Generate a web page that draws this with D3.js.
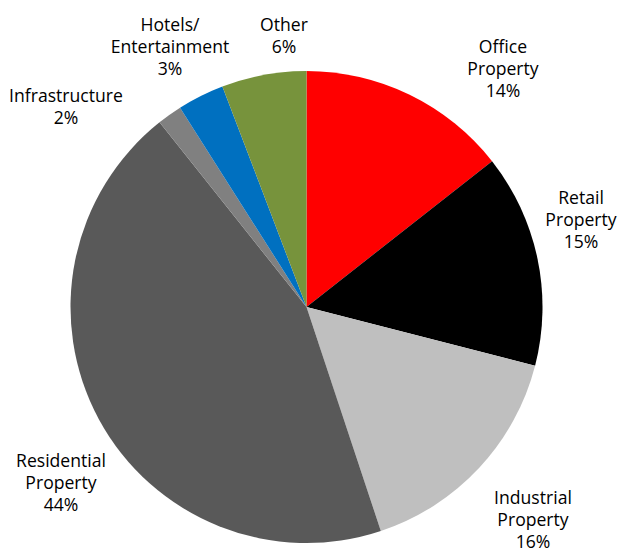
<!DOCTYPE html>
<html>
<head>
<meta charset="utf-8">
<script src="https://cdn.jsdelivr.net/npm/d3@7"></script>
<style>
  body { margin: 0; background: #fff; }
  text { font-family: "Open Sans", sans-serif; font-size: 17.6px; fill: #000; }
</style>
</head>
<body>
<svg id="chart" width="622" height="548"></svg>
<script>
// sectors, clockwise from 12 o'clock
var sectors = ["Office\nProperty", "Retail\nProperty", "Industrial\nProperty", "Residential\nProperty", "Infrastructure", "Hotels/\nEntertainment", "Other"];
var shares = [14.4, 14.6, 15.9, 44.4, 1.7, 3.2, 5.8];
var shareLabels = ["14%", "15%", "16%", "44%", "2%", "3%", "6%"];
var colors = ["#ff0000", "#000000", "#bfbfbf", "#595959", "#808080", "#0070c0", "#77933c"];

// label anchor (centre x, first baseline y) for each sector
var labelX = [503, 581, 533, 61, 66, 170, 284];
var labelY = [53, 204, 504, 467, 102, 31, 31];

var svg = d3.select("#chart");
var cx = 306.5, cy = 307, radius = 236;

var pie = d3.pie().sort(null).value(function(d){ return d; });
var arc = d3.arc().innerRadius(0).outerRadius(radius);

var g = svg.append("g").attr("transform", "translate(" + cx + "," + cy + ")");
g.selectAll("path")
    .data(pie(shares))
    .enter().append("path")
    .attr("d", arc)
    .attr("fill", function(d, i){ return colors[i]; });

for (i = 0; i < sectors.length; i++){
  var lines = sectors[i].split("\n").concat([shareLabels[i]]);
  var t = svg.append("text")
      .attr("text-anchor", "middle")
      .attr("x", labelX[i])
      .attr("y", labelY[i]);
  for (j = 0; j < lines.length; j++){
    t.append("tspan")
        .attr("x", labelX[i])
        .attr("dy", j == 0 ? 0 : 22)
        .text(lines[j]);
  }
}
</script>
</body>
</html>
